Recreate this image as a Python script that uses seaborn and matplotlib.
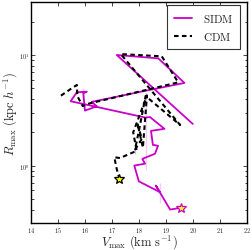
import numpy as np
import matplotlib
matplotlib.use('Agg')
import matplotlib.pyplot as plt
import seaborn as sns
from matplotlib.ticker import FuncFormatter

# SIDM track (Vmax in km/s, Rmax in kpc/h)
sidm_vmax = [20.00, 17.18, 18.72, 19.69, 18.30, 16.25, 16.44, 16.25, 16.00, 15.94,
             16.07, 15.94, 15.70, 15.47, 16.25, 18.25, 18.41, 18.95, 18.45, 18.52,
             18.71, 18.60, 18.13, 18.23, 17.83, 18.00, 18.25, 18.78, 18.63, 18.78,
             19.16, 19.55]
sidm_rmax = [2.38, 10.0, 9.33, 5.59, 4.78, 3.87, 3.44, 3.53, 3.14, 4.00,
             4.66, 5.00, 4.60, 3.82, 3.90, 4.51, 2.75, 2.15, 2.06, 1.54,
             1.51, 1.28, 1.15, 1.04, 1.00, 0.72, 0.92, 0.69, 0.66, 0.46,
             0.40, 0.415]

# CDM track
cdm_vmax = [15.11, 15.51, 15.70, 15.72, 15.92, 16.09, 19.46, 18.85, 17.33, 19.53,
            18.25, 18.04, 17.86, 18.11, 18.25, 17.95, 18.15, 18.30, 17.79, 17.92,
            17.86, 17.30, 17.09, 17.18, 17.28]
cdm_rmax = [4.29, 5.00, 5.36, 4.24, 3.45, 3.61, 5.66, 9.73, 10.2, 2.33,
            4.51, 2.30, 1.52, 1.74, 4.00, 2.40, 1.45, 4.30, 2.00, 1.36,
            1.28, 1.17, 1.19, 0.93, 0.76]

sns.set_style('ticks')
plt.rcParams['font.family'] = 'serif'
plt.rcParams['font.serif'] = ['cmr10', 'DejaVu Serif']
plt.rcParams['mathtext.fontset'] = 'cm'
plt.rcParams['axes.unicode_minus'] = False
plt.rcParams['axes.formatter.use_mathtext'] = True

fig = plt.figure(figsize=(2.52, 2.51), dpi=100)
ax = fig.add_axes([0.123, 0.106, 0.856, 0.881])

sns.lineplot(x=sidm_vmax, y=sidm_rmax, sort=False, color='#c800c8', lw=1.3,
             ax=ax, label='SIDM')
sns.lineplot(x=cdm_vmax, y=cdm_rmax, sort=False, color='k', lw=1.5,
             ax=ax, label='CDM')
ax.lines[1].set_dashes([2.2, 1.6])

ax.plot(sidm_vmax[-1], sidm_rmax[-1], marker='*', ms=7, mfc='yellow',
        mec='#c800c8', mew=0.9, zorder=5)
ax.plot(cdm_vmax[-1], cdm_rmax[-1], marker='*', ms=7, mfc='yellow',
        mec='k', mew=0.9, zorder=5)

ax.set_yscale('log')
ax.set_xlim(14, 22)
ax.set_ylim(0.3, 30)
ax.xaxis.set_major_formatter(FuncFormatter(lambda v, p: r'$%d$' % v))

ax.tick_params(which='both', direction='in', top=True, right=True,
               labelsize=4.5, width=0.6, pad=1)
ax.tick_params(which='major', length=3)
ax.tick_params(which='minor', length=1.8)
for s in ax.spines.values():
    s.set_linewidth(1.0)
    s.set_color('k')

ax.set_xlabel(r'$V_{\rm max}\ (\rm km\ s^{-1})$', fontsize=9, labelpad=-1)
ax.set_ylabel(r'$R_{\rm max}\ (\rm kpc\ {\it h}^{-1})$', fontsize=9, labelpad=0)

leg = ax.legend(loc='upper right', bbox_to_anchor=(240 / 252, 1 - 6 / 251),
                bbox_transform=fig.transFigure, borderaxespad=0,
                fontsize=8, fancybox=False, framealpha=1,
                edgecolor='#333333', handlelength=1.6, borderpad=0.6,
                labelspacing=0.6, handletextpad=1.0)
leg.get_frame().set_linewidth(0.8)
for t in leg.get_texts():
    t.set_text(r'$\rm %s$' % t.get_text())

fig.savefig('out.png', dpi=100)
